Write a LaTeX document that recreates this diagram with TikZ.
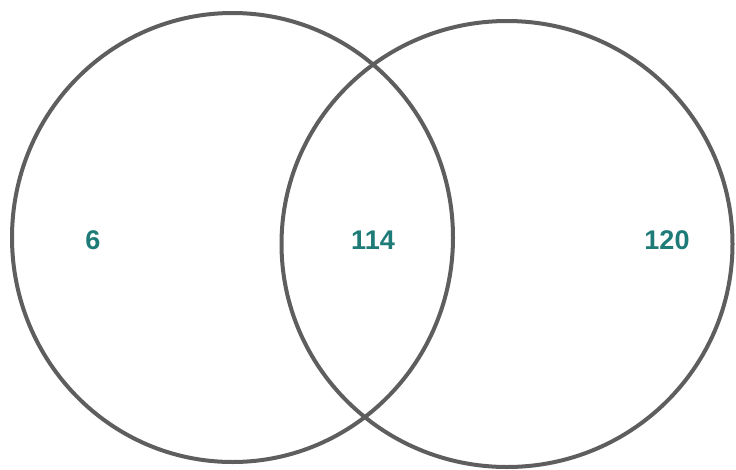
\documentclass[tikz,border=0pt]{standalone}
\usepackage{fontspec}
\setmainfont{Liberation Sans}
\usepackage{tikz}
\definecolor{setline}{HTML}{5E5E5E}
\definecolor{setteal}{HTML}{1F7B78}
\tikzset{
	setcircle/.style={
			draw=setline,
			line width=4pt
		},
	countlabel/.style={
			font=\fontsize{27}{30}\selectfont\bfseries,
			text=setteal,
			inner sep=0pt
		}
}

\begin{document}
\begin{tikzpicture}[x=1pt, y=-1pt]
\useasboundingbox (0,0) rectangle (736,469);

% the two sets
\draw[setcircle] (232.5,237.5) ellipse [x radius=220.5pt, y radius=224.5pt];
\draw[setcircle] (507,244) ellipse [x radius=225.5pt, y radius=223pt];

% counts
\node[countlabel] (onlyleft)  at (93,240)  {6};
\node[countlabel] (both)      at (373,240) {114};
\node[countlabel] (onlyright) at (667,240) {120};
\end{tikzpicture}
\end{document}
